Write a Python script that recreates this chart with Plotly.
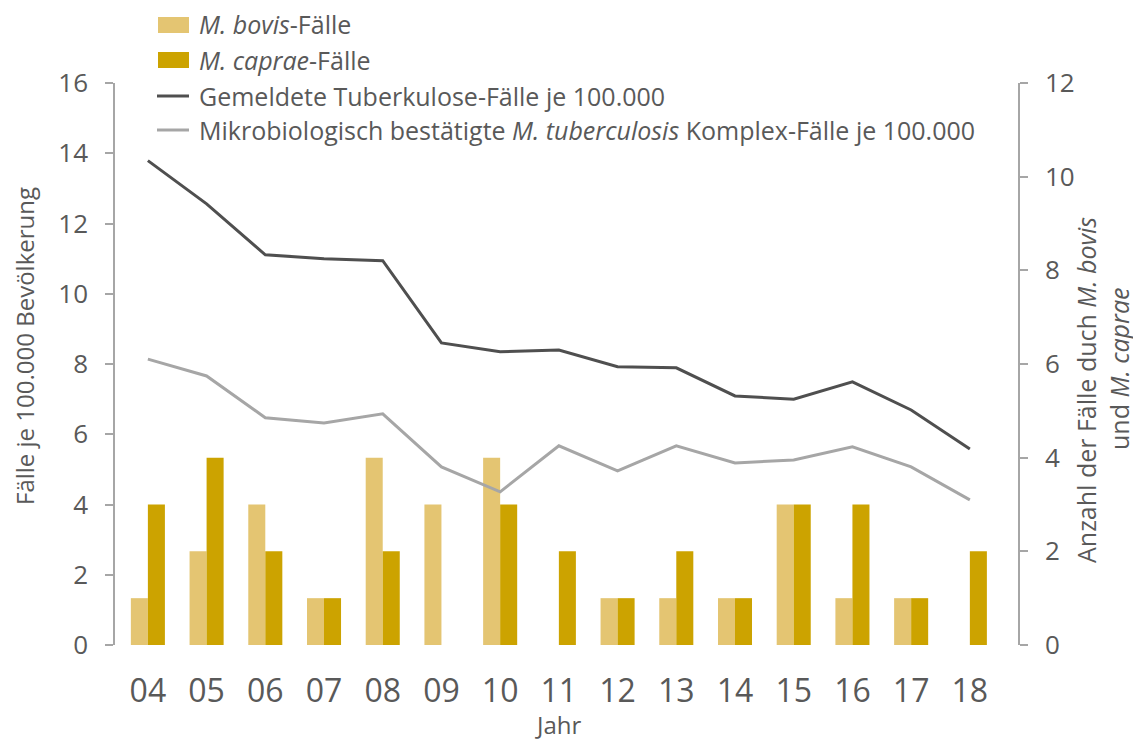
import plotly.graph_objects as go

years = ["04", "05", "06", "07", "08", "09", "10", "11", "12", "13", "14", "15", "16", "17", "18"]
bovis = [1, 2, 3, 1, 4, 3, 4, 0, 1, 1, 1, 3, 1, 1, 0]
caprae = [3, 4, 2, 1, 2, 0, 3, 2, 1, 2, 1, 3, 3, 1, 2]
gemeldet = [13.79, 12.56, 11.11, 11.0, 10.94, 8.6, 8.35, 8.4, 7.92, 7.89, 7.09, 7.0, 7.49, 6.69, 5.58]
bestaetigt = [8.14, 7.66, 6.47, 6.32, 6.58, 5.07, 4.36, 5.67, 4.96, 5.67, 5.18, 5.27, 5.64, 5.07, 4.13]

legend_labels = [
    "<i>M. bovis</i>-Fälle",
    "<i>M. caprae</i>-Fälle",
    "Gemeldete Tuberkulose-Fälle je 100.000",
    "Mikrobiologisch bestätigte <i>M. tuberculosis</i> Komplex-Fälle je 100.000",
]

C_BOVIS = "#E4C572"
C_CAPRAE = "#CCA300"
C_DARK = "#4F4F4F"
C_LIGHT = "#A6A6A6"
C_TEXT = "#595959"
C_AXIS = "#A6A6A6"
FONT = "Open Sans"

fig = go.Figure()
fig.add_trace(go.Bar(x=years, y=bovis, name=legend_labels[0], marker=dict(color=C_BOVIS, line=dict(width=0)),
                     yaxis="y", showlegend=False))
fig.add_trace(go.Bar(x=years, y=caprae, name=legend_labels[1], marker=dict(color=C_CAPRAE, line=dict(width=0)),
                     yaxis="y", showlegend=False))
fig.add_trace(go.Scatter(x=years, y=gemeldet, name=legend_labels[2], mode="lines",
                         line=dict(color=C_DARK, width=3), yaxis="y2", showlegend=False))
fig.add_trace(go.Scatter(x=years, y=bestaetigt, name=legend_labels[3], mode="lines",
                         line=dict(color=C_LIGHT, width=3), yaxis="y2", showlegend=False))

# page is 1141x743; body margin of 8px offsets the figure
OFF = 8
W, H = 1141 - OFF, 743 - OFF
L, R, T, B = 115, 1018, 83, 645  # plot area in page pixels


def px(x):
    return (x - L) / (R - L)


def py(y):
    return (B - y) / (B - T)


shapes = [
    dict(type="rect", xref="paper", yref="paper", x0=px(158), x1=px(189), y0=py(33), y1=py(17),
         fillcolor=C_BOVIS, line=dict(width=0)),
    dict(type="rect", xref="paper", yref="paper", x0=px(158), x1=px(189), y0=py(68), y1=py(52),
         fillcolor=C_CAPRAE, line=dict(width=0)),
    dict(type="line", xref="paper", yref="paper", x0=px(157), x1=px(189), y0=py(96), y1=py(96),
         line=dict(color=C_DARK, width=3)),
    dict(type="line", xref="paper", yref="paper", x0=px(157), x1=px(189), y0=py(130), y1=py(130),
         line=dict(color=C_LIGHT, width=3)),
]

annotations = []
for lbl, yc in zip(legend_labels, [24, 60, 96, 130]):
    annotations.append(dict(text=lbl, xref="paper", yref="paper", x=px(197), y=py(yc), xanchor="left",
                            yanchor="middle", showarrow=False, font=dict(family=FONT, size=25, color=C_TEXT)))

annotations.append(dict(text="Fälle je 100.000 Bevölkerung", xref="paper", yref="paper", x=px(24), y=py(346),
                        xanchor="center", yanchor="middle", textangle=-90, showarrow=False,
                        font=dict(family=FONT, size=24, color=C_TEXT)))
annotations.append(dict(text="Anzahl der Fälle duch <i>M. bovis</i>", xref="paper",
                        yref="paper", x=px(1086), y=py(390), xanchor="center", yanchor="middle", textangle=-90,
                        showarrow=False, font=dict(family=FONT, size=25, color=C_TEXT)))
annotations.append(dict(text="und <i>M. caprae</i>", xref="paper",
                        yref="paper", x=px(1119), y=py(369), xanchor="center", yanchor="middle", textangle=-90,
                        showarrow=False, font=dict(family=FONT, size=25, color=C_TEXT)))
annotations.append(dict(text="Jahr", xref="paper", yref="paper", x=px(558), y=py(724), xanchor="center",
                        yanchor="middle", showarrow=False, font=dict(family=FONT, size=24, color=C_TEXT)))

fig.update_layout(
    width=W, height=H,
    margin=dict(l=L - OFF, r=1141 - R, t=T - OFF, b=743 - B, pad=0),
    paper_bgcolor="white", plot_bgcolor="white",
    barmode="group", bargap=0.42, bargroupgap=0,
    shapes=shapes, annotations=annotations,
    font=dict(family=FONT, color=C_TEXT),
    xaxis=dict(type="category", range=[-0.56, 14.82], showgrid=False, showline=False, zeroline=False,
               ticks="", tickfont=dict(family=FONT, size=32, color=C_TEXT), ticklabelstandoff=24),
    yaxis=dict(side="right", range=[0, 12], dtick=2, showgrid=False, zeroline=False, showline=True,
               linecolor=C_AXIS, linewidth=1.5, ticks="outside", ticklen=8, tickcolor=C_AXIS, tickwidth=1.5,
               tickfont=dict(family=FONT, size=26, color=C_TEXT), ticklabelstandoff=12),
    yaxis2=dict(side="left", overlaying="y", range=[0, 16], dtick=2, showgrid=False, zeroline=False,
                showline=True, linecolor=C_AXIS, linewidth=1.5, ticks="outside", ticklen=8, tickcolor=C_AXIS,
                tickwidth=1.5, tickfont=dict(family=FONT, size=26, color=C_TEXT), ticklabelstandoff=12),
)

fig.write_html("out.html")
